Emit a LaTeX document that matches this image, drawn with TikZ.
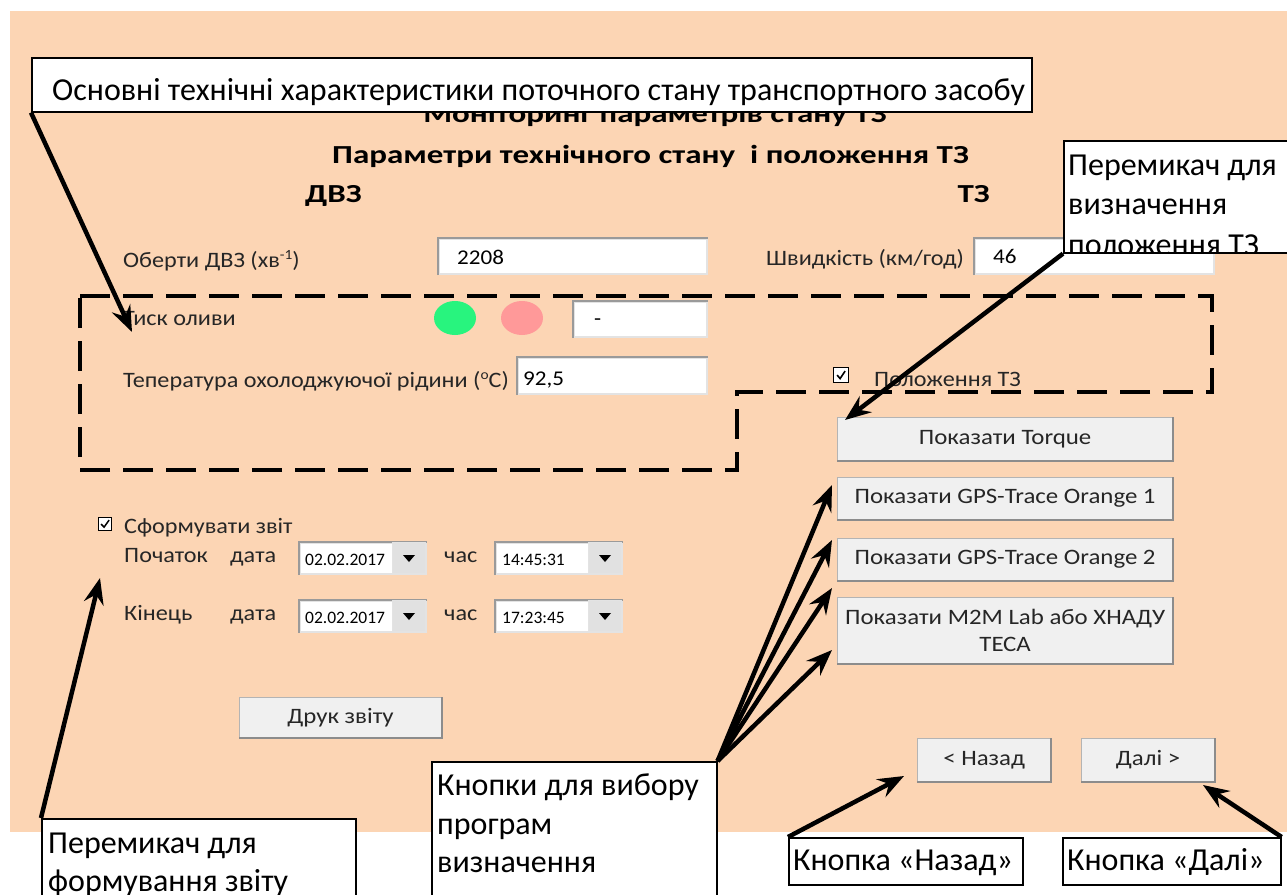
\documentclass[tikz,border=0pt]{standalone}
\usepackage{fontspec}
\setmainfont{Carlito}
\newfontfamily\uifont{Carlito}[FakeStretch=1.1]
\newfontfamily\btnfont{Carlito}[FakeStretch=1.13]
\newfontfamily\hdrfont{Carlito}[FakeStretch=1.27]
\usetikzlibrary{arrows.meta,calc,shapes.geometric}
\definecolor{peach}{HTML}{FCD5B4}
\definecolor{okgreen}{HTML}{28F47E}
\definecolor{badpink}{HTML}{FF9999}
\definecolor{btnfill}{HTML}{F0F0F0}
\definecolor{btnedge}{HTML}{B4B4B4}
\definecolor{btnshadow}{HTML}{8C8C8C}
\definecolor{fieldedge}{HTML}{E3E3E3}
\definecolor{fielddark}{HTML}{9A9A9A}
\definecolor{ddfill}{HTML}{E1E1E1}
\begin{document}
\begin{tikzpicture}[x=1pt,y=-1pt,
  lab/.style={anchor=base west, inner sep=0pt, font=\uifont\fontsize{22}{26}\selectfont, text=black!85},
  val/.style={anchor=base west, inner sep=0pt, font=\uifont\fontsize{21}{25}\selectfont},
  small/.style={anchor=base west, inner sep=0pt, font=\fontsize{17.5}{20}\selectfont},
  hdr/.style={inner sep=0pt, font=\hdrfont\bfseries\fontsize{26}{30}\selectfont},
  field/.style={draw=fieldedge, line width=2pt, fill=white, anchor=north west, inner sep=0pt},
  ddbox/.style={draw=fieldedge, line width=1pt, fill=ddfill, anchor=north west, inner sep=0pt, minimum width=33, minimum height=31},
  btn/.style={draw=btnedge, line width=1.2pt, fill=btnfill, anchor=north west, inner sep=0pt, font=\btnfont\fontsize{22}{27}\selectfont, align=center, text=black!85},
  callout/.style={draw=black, line width=1.6pt, fill=white, anchor=north west, inner sep=0pt},
  ctext/.style={anchor=base west, inner sep=0pt, font=\fontsize{32}{38}\selectfont},
  chk/.style={draw=black, line width=1.2pt, fill=white, anchor=north west, inner sep=0pt, minimum width=13, minimum height=13},
  zone/.style={line width=3.6pt, dash pattern=on 30pt off 13pt},
  arr/.style={line width=4.5pt, -{Stealth[length=26pt,width=20pt,inset=9pt]}},
]
\clip (0,0) rectangle (1287,894);
\fill[white] (0,0) rectangle (1287,894);
\fill[peach] (10,11) rectangle (1287,832);

% headers
\node[hdr, anchor=base] (h1) at (655,122) {Моніторинг параметрів стану ТЗ};
\node[hdr, anchor=base west] (h2) at (332,163) {Параметри технічного стану \ і положення ТЗ};
\node[hdr, anchor=base west] (h3) at (305,202) {ДВЗ};
\node[hdr, anchor=base east] (h4) at (990,202) {ТЗ};

% fields row 1
\node[lab] (l1) at (123,267) {Оберти ДВЗ (хв\raisebox{8pt}{\fontsize{14}{14}\selectfont -1})};
\node[field, minimum width=268, minimum height=35] (f1) at (438,238) {};
\draw[fielddark, line width=1.5pt] (f1.south west) -- (f1.north west) -- (f1.north east);
\node[val] (v1) at (457,264) {2208};

\node[lab] (l2) at (766,265) {Швидкість (км/год)};
\node[field, minimum width=239, minimum height=35] (f2) at (974,238) {};
\draw[fielddark, line width=1.5pt] (f2.south west) -- (f2.north west) -- (f2.north east);
\node[val] (v2) at (993,263) {46};

% oil pressure
\node[lab] (l3) at (123,325) {Тиск оливи};
\node[ellipse, fill=okgreen, minimum width=42, minimum height=34, inner sep=0pt] (g1) at (455,318) {};
\node[ellipse, fill=badpink, minimum width=42, minimum height=34, inner sep=0pt] (p1) at (522,318) {};
\node[field, minimum width=133, minimum height=35] (f3) at (573,301) {};
\draw[fielddark, line width=1.5pt] (f3.south west) -- (f3.north west) -- (f3.north east);
\node[val] (v3) at (594,325) {-};

% coolant
\node[lab] (l4) at (123,387) {Тепература охолоджуючої рідини (\raisebox{8pt}{\fontsize{14}{14}\selectfont o}C)};
\node[field, minimum width=189, minimum height=36] (f4) at (517,357) {};
\draw[fielddark, line width=1.5pt] (f4.south west) -- (f4.north west) -- (f4.north east);
\node[val] (v4) at (523,385) {92,5};

% position checkbox
\node[chk, minimum width=15, minimum height=15] (ck1) at (833,367) {};
\draw[line width=1.6pt] ($(ck1.center)+(-4,0)$) -- ++(3,3.5) -- ++(5,-7.5);
\node[lab] (l5) at (874,386) {Положення ТЗ};

% dashed zone
\draw[zone] (80,296) -- (1212,296) -- (1212,392) -- (737,392) -- (737,470) -- (80,470) -- cycle;

% right buttons
\node[btn, minimum width=335, minimum height=43] (b1) at (837,417) {Показати Torque};
\node[btn, minimum width=335, minimum height=42] (b2) at (837,477) {Показати GPS-Trace Orange 1};
\node[btn, minimum width=335, minimum height=42] (b3) at (837,538) {Показати GPS-Trace Orange 2};
\node[btn, minimum width=335, minimum height=66] (b4) at (837,597) {Показати M2M Lab або ХНАДУ\\ТЕСА};
\node[btn, minimum width=133, minimum height=43] (bb) at (917,738) {< Назад};
\node[btn, minimum width=133, minimum height=43] (bn) at (1081,738) {Далі >};
\node[btn, minimum width=202, minimum height=40] (bp) at (239,697) {Друк звіту};
\foreach \b in {b1,b2,b3,b4,bb,bn,bp}{
  \draw[btnshadow, line width=1.5pt] (\b.south west) -- (\b.south east) -- (\b.north east);
}

% report block
\node[chk] (ck2) at (98,517) {};
\draw[line width=1.5pt] ($(ck2.center)+(-4,0)$) -- ++(3,3) -- ++(5,-7);
\node[lab] (l6) at (124,533) {Сформувати звіт};
\node[lab] (l7) at (124,562) {Початок};
\node[lab] (l8) at (230,562) {дата};
\node[field, minimum width=126, minimum height=31] (d1) at (299,542) {};
\draw[fielddark, line width=1.5pt] (d1.south west) -- (d1.north west) -- (d1.north east);
\node[ddbox] (dd1) at (392,542) {};
\fill ($(dd1.center)+(-6,-3)$) -- ++(12,0) -- ++(-6,7) -- cycle;
\node[small] (dv1) at (305,565) {02.02.2017};
\node[lab] (l9) at (444,562) {час};
\node[field, minimum width=126, minimum height=31] (t1f) at (495,542) {};
\draw[fielddark, line width=1.5pt] (t1f.south west) -- (t1f.north west) -- (t1f.north east);
\node[ddbox] (dd2) at (588,542) {};
\fill ($(dd2.center)+(-6,-3)$) -- ++(12,0) -- ++(-6,7) -- cycle;
\node[small] (tv1) at (502,565) {14:45:31};

\node[lab] (l10) at (124,620) {Кінець};
\node[lab] (l11) at (230,620) {дата};
\node[field, minimum width=126, minimum height=31] (d2) at (299,600) {};
\draw[fielddark, line width=1.5pt] (d2.south west) -- (d2.north west) -- (d2.north east);
\node[ddbox] (dd3) at (392,600) {};
\fill ($(dd3.center)+(-6,-3)$) -- ++(12,0) -- ++(-6,7) -- cycle;
\node[small] (dv2) at (305,623) {02.02.2017};
\node[lab] (l12) at (444,620) {час};
\node[field, minimum width=126, minimum height=31] (t2f) at (495,600) {};
\draw[fielddark, line width=1.5pt] (t2f.south west) -- (t2f.north west) -- (t2f.north east);
\node[ddbox] (dd4) at (588,600) {};
\fill ($(dd4.center)+(-6,-3)$) -- ++(12,0) -- ++(-6,7) -- cycle;
\node[small] (tv2) at (502,623) {17:23:45};

% callouts
\node[callout, minimum width=1000, minimum height=54] (c1) at (31,57) {};
\node[ctext] (c1t) at (52,100) {Основні технічні характеристики поточного стану транспортного засобу};

\node[callout, minimum width=240, minimum height=112] (c2) at (1063,140) {};
\begin{scope}
\clip (c2.north west) rectangle (c2.south east);
\node[ctext] (c2a) at (1068,175) {Перемикач для};
\node[ctext] (c2b) at (1068,214) {визначення};
\node[ctext] (c2c) at (1068,255) {положення ТЗ};
\end{scope}

\node[callout, minimum width=285, minimum height=150] (c3) at (431,761) {};
\node[ctext] (c3a) at (437,795) {Кнопки для вибору};
\node[ctext] (c3b) at (437,834) {програм};
\node[ctext] (c3c) at (437,872) {визначення};

\node[callout, minimum width=314, minimum height=100] (c4) at (41,818) {};
\node[ctext] (c4a) at (48,853) {Перемикач для};
\node[ctext] (c4b) at (48,891) {формування звіту};

\node[callout, minimum width=234, minimum height=47] (c5) at (788,837) {};
\node[ctext] (c5t) at (793,870) {Кнопка «Назад»};
\node[callout, minimum width=218, minimum height=47] (c6) at (1062,837) {};
\node[ctext] (c6t) at (1067,870) {Кнопка «Далі»};

% arrow targets
\coordinate (a1) at (132,332);
\coordinate (a2) at (845,420);
\coordinate (a3) at (832,485);
\coordinate (a4) at (832,540);
\coordinate (a5) at (832,588);
\coordinate (a6) at (832,650);
\coordinate (a7) at (904,776);
\coordinate (a8) at (1203,785);
\coordinate (a9) at (100,578);

\draw[arr] (c1.south west) -- (a1);
\draw[arr] (c2.south west) -- (a2);
\foreach \t in {a3,a4,a5,a6}{\draw[arr] (c3.north east) -- (\t);}
\draw[arr] (c5.north west) -- (a7);
\draw[arr] (c6.north east) -- (a8);
\draw[arr] (c4.north west) -- (a9);
\end{tikzpicture}
\end{document}
